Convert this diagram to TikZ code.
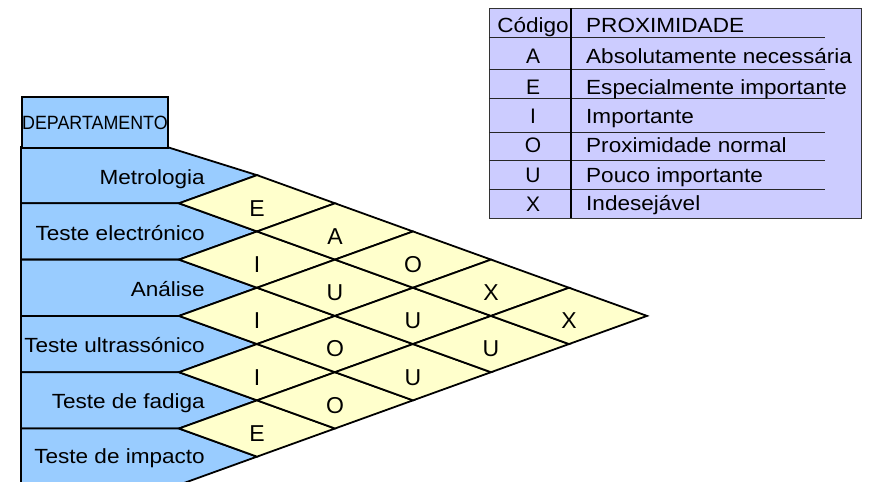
\documentclass[tikz,border=0pt]{standalone}
\usepackage{fontspec}
\setmainfont{Liberation Sans}[FakeStretch=1.1]
\newfontfamily\letterfont{Liberation Sans}
\newfontfamily\deptfont{Liberation Sans}[FakeStretch=0.93]
\definecolor{rowblue}{RGB}{153,204,255}
\definecolor{cellyellow}{RGB}{255,255,204}
\definecolor{legendfill}{RGB}{204,204,255}
\begin{document}
\begin{tikzpicture}[x=1pt,y=-1pt,
  rowshape/.style={fill=rowblue,draw=black,line width=1.8pt},
  cellshape/.style={fill=cellyellow,draw=black,line width=1.8pt},
  deptbox/.style={fill=rowblue,draw=black,line width=1.8pt,minimum width=146pt,minimum height=51pt,inner sep=0pt,anchor=north west},
  rowlabel/.style={anchor=base east,inner sep=0pt,font=\fontsize{20.5}{24}\selectfont},
  celllabel/.style={anchor=base,inner sep=0pt,font=\letterfont\fontsize{23}{24}\selectfont},
  legbox/.style={fill=legendfill,draw=black!80,line width=1pt,minimum width=372pt,minimum height=210pt,inner sep=0pt,anchor=north west},
  legtext/.style={anchor=base west,inner sep=0pt,font=\fontsize{20.5}{24}\selectfont},
  leghead/.style={anchor=base,inner sep=0pt,font=\fontsize{20.5}{24}\selectfont},
  legcode/.style={anchor=base,inner sep=0pt,font=\letterfont\fontsize{21}{24}\selectfont},
  legrule/.style={draw=black!85,line width=0.9pt},
  legdivider/.style={draw=black,line width=1.8pt},
]
\useasboundingbox (0,0) rectangle (879,482);
\clip (0,0) rectangle (879,482);

% department rows
\foreach \i in {0,...,5}{
  \pgfmathsetmacro\bt{147+56.3*\i}
  \pgfmathsetmacro\bb{147+56.3*(\i+1)}
  \pgfmathsetmacro\cc{\bt+28.15}
  \pgfmathsetmacro\tx{ifthenelse(\i==0,167,179)}
  \filldraw[rowshape] (21,\bt) -- (\tx,\bt) -- (257,\cc) -- (179,\bb) -- (21,\bb) -- cycle;
}

% relationship diamonds
\foreach \a/\b/\t in {0/1/E,1/2/I,2/3/I,3/4/I,4/5/E,0/2/A,1/3/U,2/4/O,3/5/O,0/3/O,1/4/U,2/5/U,0/4/X,1/5/U,0/5/X}{
  \pgfmathsetmacro\cx{257+78*(\b-\a-1)}
  \pgfmathsetmacro\cy{147+28.15*(\a+\b+1)}
  \filldraw[cellshape] (\cx-78,\cy) -- (\cx,\cy-28.15) -- (\cx+78,\cy) -- (\cx,\cy+28.15) -- cycle;
  \node[celllabel] (rel\a\b) at (\cx,\cy+12.8) {\t};
}

% header box
\node[deptbox] (dept) at (21,96) {\deptfont\fontsize{19.2}{19}\selectfont DEPARTAMENTO};

% department labels
\node[rowlabel] (r0) at (205,184.3) {Metrologia};
\node[rowlabel] (r1) at (205,240.7) {Teste electrónico};
\node[rowlabel] (r2) at (205,296.7) {Análise};
\node[rowlabel] (r3) at (205,352.5) {Teste ultrassónico};
\node[rowlabel] (r4) at (205,408.3) {Teste de fadiga};
\node[rowlabel] (r5) at (205,463.3) {Teste de impacto};

% legend
\node[legbox] (legend) at (489,8) {};
\foreach \y in {37.3,69.3,98.3,132.3,160,189.3}{
  \draw[legrule] (489,\y) -- (825,\y);
}
\draw[legdivider] (571,8) -- (571,218);
\node[leghead] (hcode) at (533,32.5) {Código};
\node[legtext] (hprox) at (586,32.8) {PROXIMIDADE};
\foreach \c/\d/\y [count=\k] in {A/Absolutamente necessária/63,E/Especialmente importante/94,I/Importante/123,O/Proximidade normal/152,U/Pouco importante/182,X/Indesejável/210.5}{
  \node[legcode] (code\k) at (533,\y+0.5) {\c};
  \node[legtext] (desc\k) at (586,\y) {\d};
}
\end{tikzpicture}
\end{document}
